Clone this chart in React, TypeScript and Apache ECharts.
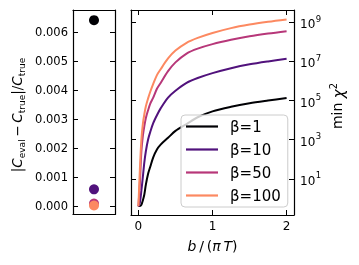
import React, { useEffect, useRef } from "react";
import * as echarts from "echarts";

// b / (pi T) sample positions
const bValues = [0, 0.02, 0.04, 0.06, 0.08, 0.1, 0.13, 0.16, 0.2, 0.25, 0.3, 0.4, 0.5, 0.65, 0.8, 1.0, 1.25, 1.5, 1.75, 2.0];
// min chi^2 per beta
const chiBeta1 = [0.42, 0.42, 0.48, 0.8, 1.6, 5.0, 18, 42, 126, 316, 560, 1260, 2820, 6300, 14100, 28200, 47900, 72400, 100000, 135000];
const chiBeta10 = [0.4, 0.63, 2.5, 12.6, 70, 251, 1000, 2510, 7080, 17800, 39800, 141000, 316000, 794000, 1.41e6, 2.51e6, 4.47e6, 7.08e6, 1.0e7, 1.35e7];
const chiBeta50 = [0.4, 6.3, 251, 1580, 5010, 12600, 31600, 70800, 141000, 398000, 794000, 3.16e6, 8.9e6, 2.51e7, 4.47e7, 7.6e7, 1.26e8, 1.9e8, 2.63e8, 3.47e8];
const chiBeta100 = [0.4, 32, 1000, 6310, 2.0e4, 5.0e4, 1.26e5, 2.82e5, 7.08e5, 2.0e6, 3.98e6, 1.41e7, 3.55e7, 8.9e7, 1.58e8, 2.82e8, 5.0e8, 7.6e8, 1.05e9, 1.38e9];
const seriesNames = ["β=1", "β=10", "β=50", "β=100"];
// relative error of C per beta
const relErr = [0.00642, 0.00058, 0.00009, 0.00002];

// tick values
const relErrTicks = [0, 0.001, 0.002, 0.003, 0.004, 0.005, 0.006];
const bTicks = [0, 1, 2];
const chiTicks = [10, 1e3, 1e5, 1e7, 1e9];

const colors = ["#000004", "#51127c", "#b73779", "#fc8961"];
const FONT = "DejaVu Sans";

export default function App() {
  const ref = useRef<HTMLDivElement>(null);
  useEffect(() => {
    const chart = echarts.init(ref.current!, null, { renderer: "svg" });
    const chiSeries = [chiBeta1, chiBeta10, chiBeta50, chiBeta100];
    const spine = { show: true, onZero: false, lineStyle: { color: "#000", width: 1.2 } };
    const tickIn = (vals: number[]) => ({
      show: true,
      inside: true,
      length: 5,
      customValues: vals,
      lineStyle: { color: "#000", width: 1 },
    });
    const yMinL = -0.00029, yMaxL = 0.00677;
    const yMinR = 0.144, yMaxR = 4.2e9;
    const xMinR = -0.1, xMaxR = 2.1;
    const lineIcon = "path://M0,0 L32,0 L32,2.2 L0,2.2 Z";
    const option: any = {
      animation: false,
      grid: [
        { left: 73, top: 10, width: 42, height: 204.5 },
        { left: 131, top: 10, width: 163, height: 205 },
      ],
      xAxis: [
        { gridIndex: 0, type: "value", min: -1, max: 1, position: "bottom", axisLine: spine, axisTick: { show: false }, axisLabel: { show: false }, splitLine: { show: false } },
        { gridIndex: 0, type: "value", min: -1, max: 1, position: "top", axisLine: spine, axisTick: { show: false }, axisLabel: { show: false }, splitLine: { show: false } },
        {
          gridIndex: 1, type: "value", min: xMinR, max: xMaxR, position: "bottom",
          axisLine: spine, axisTick: tickIn(bTicks),
          axisLabel: { customValues: bTicks, fontFamily: FONT, fontSize: 12, color: "#000", margin: 5 },
          splitLine: { show: false },
          name: "{i|b}\u2009/\u2009({i|π\u2009T})", nameLocation: "middle", nameGap: 24,
          nameTextStyle: { fontFamily: FONT, fontSize: 14, color: "#000", rich: { i: { fontStyle: "italic", fontFamily: FONT, fontSize: 14, color: "#000" } } },
        },
        { gridIndex: 1, type: "value", min: xMinR, max: xMaxR, position: "top", axisLine: spine, axisTick: tickIn(bTicks), axisLabel: { show: false }, splitLine: { show: false } },
      ],
      yAxis: [
        {
          gridIndex: 0, type: "value", min: yMinL, max: yMaxL, position: "left",
          axisLine: spine, axisTick: tickIn(relErrTicks),
          axisLabel: { customValues: relErrTicks, formatter: (v: number) => v.toFixed(3), fontFamily: FONT, fontSize: 11.5, color: "#000", margin: 5 },
          splitLine: { show: false },
        },
        { gridIndex: 0, type: "value", min: yMinL, max: yMaxL, position: "right", axisLine: spine, axisTick: tickIn(relErrTicks), axisLabel: { show: false }, splitLine: { show: false } },
        {
          gridIndex: 1, type: "log", logBase: 10, min: yMinR, max: yMaxR, position: "right",
          axisLine: spine, axisTick: tickIn(chiTicks),
          axisLabel: {
            customValues: chiTicks,
            formatter: (v: number) => `{b|10}{s|${Math.round(Math.log10(v))}}`,
            margin: 6,
            rich: {
              b: { fontFamily: FONT, fontSize: 12, color: "#000", lineHeight: 16, verticalAlign: "bottom" },
              s: { fontFamily: FONT, fontSize: 8.5, color: "#000", lineHeight: 16, verticalAlign: "top", padding: [0, 0, 0, 0.5] },
            },
          },
          splitLine: { show: false }, minorTick: { show: false },
        },
        { gridIndex: 1, type: "log", logBase: 10, min: yMinR, max: yMaxR, position: "left", axisLine: spine, axisTick: tickIn(chiTicks), axisLabel: { show: false }, splitLine: { show: false } },
      ],
      legend: {
        data: seriesNames.map((n) => ({ name: n, icon: lineIcon })),
        orient: "vertical",
        left: 181,
        top: 115,
        itemWidth: 32,
        itemHeight: 14,
        itemGap: 8,
        symbolKeepAspect: true,
        padding: [4, 7, 4, 5],
        backgroundColor: "rgba(255,255,255,0.8)",
        borderColor: "#cccccc",
        borderWidth: 1,
        borderRadius: 4,
        textStyle: { fontFamily: FONT, fontSize: 15, color: "#000", padding: [0, 0, 0, 7] },
      },
      graphic: [
        {
          type: "text",
          x: 17,
          y: 115,
          rotation: Math.PI / 2,
          style: {
            text: "|{i|C}{s|eval}\u2009−\u2009{i|C}{s|true}|/{i|C}{s|true}",
            align: "center",
            verticalAlign: "middle",
            fontFamily: FONT,
            fontSize: 13.5,
            fill: "#000",
            rich: {
              i: { fontStyle: "italic", fontFamily: FONT, fontSize: 13.5, fill: "#000", lineHeight: 18, verticalAlign: "middle" },
              s: { fontFamily: FONT, fontSize: 9, fill: "#000", lineHeight: 9, verticalAlign: "bottom", padding: [5, 0, 0, 0] },
            },
          },
        },
        {
          type: "text",
          x: 337,
          y: 106,
          rotation: Math.PI / 2,
          style: {
            text: "min {i|χ}{s|2}",
            align: "center",
            verticalAlign: "middle",
            fontFamily: FONT,
            fontSize: 14,
            fill: "#000",
            rich: {
              i: { fontStyle: "italic", fontFamily: FONT, fontSize: 15, fill: "#000", lineHeight: 18, verticalAlign: "bottom" },
              s: { fontFamily: FONT, fontSize: 10, fill: "#000", lineHeight: 18, verticalAlign: "top" },
            },
          },
        },
      ],
      series: [
        {
          type: "scatter",
          name: "relErr",
          xAxisIndex: 0,
          yAxisIndex: 0,
          symbolSize: 10,
          data: relErr.map((v, i) => ({ value: [0, v], itemStyle: { color: colors[i], opacity: 1 } })),
        },
        ...chiSeries.map((arr, i) => ({
          type: "line",
          name: seriesNames[i],
          xAxisIndex: 2,
          yAxisIndex: 2,
          symbol: "none",
          showSymbol: false,
          smooth: 0.3,
          lineStyle: { color: colors[i], width: 2 },
          itemStyle: { color: colors[i] },
          data: bValues.map((b, j) => [b, arr[j]]),
        })),
      ],
    };
    chart.setOption(option);
    return () => chart.dispose();
  }, []);
  return <div ref={ref} style={{ position: "fixed", left: 0, top: 0, width: 359, height: 265 }} />;
}
